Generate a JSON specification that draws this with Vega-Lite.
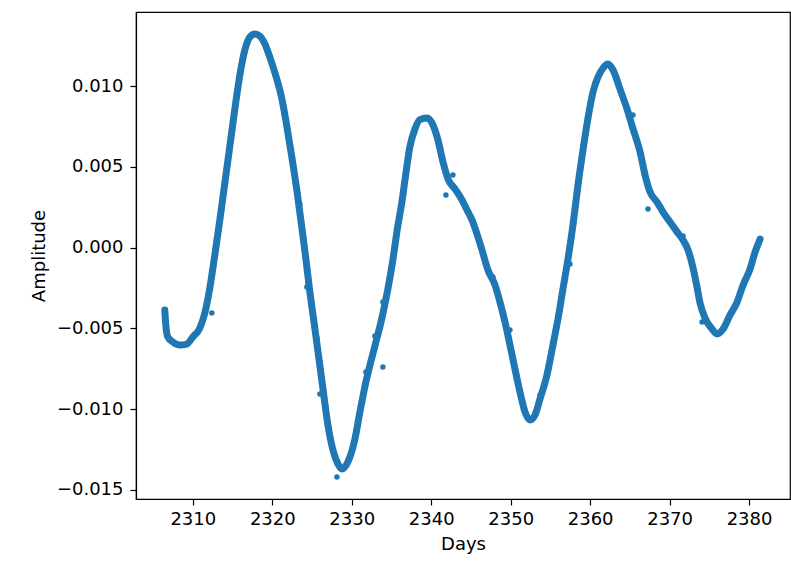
{
  "$schema": "https://vega.github.io/schema/vega-lite/v6.json",
  "width": 654,
  "height": 487,
  "autosize": {"type": "none"},
  "padding": {"left": 136, "top": 12, "right": 1, "bottom": 65},
  "background": "#ffffff",
  "config": {
    "view": {"stroke": "#000000", "strokeWidth": 1.2, "fill": "#ffffff"},
    "axis": {
      "grid": false,
      "domainColor": "#000000",
      "domainWidth": 1.2,
      "tickColor": "#000000",
      "tickWidth": 1.2,
      "tickSize": 6,
      "labelFont": "DejaVu Sans",
      "labelFontSize": 18,
      "labelColor": "#000000",
      "titleFont": "DejaVu Sans",
      "titleFontSize": 18,
      "titleFontWeight": "normal",
      "titleColor": "#000000"
    }
  },
  "data": {
    "values": [
      {"day": 2306.47, "amp": -0.00386, "kind": "curve"},
      {"day": 2306.60, "amp": -0.00479, "kind": "curve"},
      {"day": 2306.85, "amp": -0.00553, "kind": "curve"},
      {"day": 2307.48, "amp": -0.00584, "kind": "curve"},
      {"day": 2308.36, "amp": -0.00603, "kind": "curve"},
      {"day": 2309.24, "amp": -0.00597, "kind": "curve"},
      {"day": 2310.00, "amp": -0.00553, "kind": "curve"},
      {"day": 2310.88, "amp": -0.00498, "kind": "curve"},
      {"day": 2311.51, "amp": -0.00405, "kind": "curve"},
      {"day": 2312.14, "amp": -0.00250, "kind": "curve"},
      {"day": 2312.77, "amp": -0.00046, "kind": "curve"},
      {"day": 2313.40, "amp": 0.00171, "kind": "curve"},
      {"day": 2314.03, "amp": 0.00400, "kind": "curve"},
      {"day": 2314.66, "amp": 0.00629, "kind": "curve"},
      {"day": 2315.29, "amp": 0.00858, "kind": "curve"},
      {"day": 2315.92, "amp": 0.01068, "kind": "curve"},
      {"day": 2316.55, "amp": 0.01223, "kind": "curve"},
      {"day": 2317.18, "amp": 0.01303, "kind": "curve"},
      {"day": 2317.81, "amp": 0.01322, "kind": "curve"},
      {"day": 2318.44, "amp": 0.01309, "kind": "curve"},
      {"day": 2319.07, "amp": 0.01260, "kind": "curve"},
      {"day": 2319.69, "amp": 0.01179, "kind": "curve"},
      {"day": 2320.45, "amp": 0.01062, "kind": "curve"},
      {"day": 2321.21, "amp": 0.00920, "kind": "curve"},
      {"day": 2321.83, "amp": 0.00752, "kind": "curve"},
      {"day": 2322.46, "amp": 0.00561, "kind": "curve"},
      {"day": 2323.09, "amp": 0.00356, "kind": "curve"},
      {"day": 2323.66, "amp": 0.00146, "kind": "curve"},
      {"day": 2324.23, "amp": -0.00071, "kind": "curve"},
      {"day": 2324.73, "amp": -0.00275, "kind": "curve"},
      {"day": 2325.30, "amp": -0.00479, "kind": "curve"},
      {"day": 2325.86, "amp": -0.00683, "kind": "curve"},
      {"day": 2326.43, "amp": -0.00894, "kind": "curve"},
      {"day": 2327.00, "amp": -0.01098, "kind": "curve"},
      {"day": 2327.63, "amp": -0.01252, "kind": "curve"},
      {"day": 2328.26, "amp": -0.01339, "kind": "curve"},
      {"day": 2328.76, "amp": -0.01370, "kind": "curve"},
      {"day": 2329.51, "amp": -0.01327, "kind": "curve"},
      {"day": 2330.40, "amp": -0.01184, "kind": "curve"},
      {"day": 2331.03, "amp": -0.01017, "kind": "curve"},
      {"day": 2331.78, "amp": -0.00832, "kind": "curve"},
      {"day": 2332.28, "amp": -0.00730, "kind": "curve"},
      {"day": 2332.91, "amp": -0.00610, "kind": "curve"},
      {"day": 2333.80, "amp": -0.00435, "kind": "curve"},
      {"day": 2334.55, "amp": -0.00256, "kind": "curve"},
      {"day": 2335.18, "amp": -0.00075, "kind": "curve"},
      {"day": 2335.68, "amp": 0.00097, "kind": "curve"},
      {"day": 2336.31, "amp": 0.00282, "kind": "curve"},
      {"day": 2336.82, "amp": 0.00462, "kind": "curve"},
      {"day": 2337.32, "amp": 0.00625, "kind": "curve"},
      {"day": 2337.95, "amp": 0.00734, "kind": "curve"},
      {"day": 2338.58, "amp": 0.00792, "kind": "curve"},
      {"day": 2339.46, "amp": 0.00802, "kind": "curve"},
      {"day": 2340.22, "amp": 0.00759, "kind": "curve"},
      {"day": 2340.85, "amp": 0.00666, "kind": "curve"},
      {"day": 2341.48, "amp": 0.00530, "kind": "curve"},
      {"day": 2342.11, "amp": 0.00425, "kind": "curve"},
      {"day": 2342.99, "amp": 0.00363, "kind": "curve"},
      {"day": 2343.87, "amp": 0.00295, "kind": "curve"},
      {"day": 2344.50, "amp": 0.00233, "kind": "curve"},
      {"day": 2345.13, "amp": 0.00171, "kind": "curve"},
      {"day": 2345.76, "amp": 0.00084, "kind": "curve"},
      {"day": 2346.39, "amp": -0.00015, "kind": "curve"},
      {"day": 2347.14, "amp": -0.00139, "kind": "curve"},
      {"day": 2348.02, "amp": -0.00231, "kind": "curve"},
      {"day": 2348.65, "amp": -0.00337, "kind": "curve"},
      {"day": 2349.28, "amp": -0.00460, "kind": "curve"},
      {"day": 2349.91, "amp": -0.00603, "kind": "curve"},
      {"day": 2350.54, "amp": -0.00751, "kind": "curve"},
      {"day": 2351.17, "amp": -0.00894, "kind": "curve"},
      {"day": 2351.80, "amp": -0.01017, "kind": "curve"},
      {"day": 2352.43, "amp": -0.01067, "kind": "curve"},
      {"day": 2353.06, "amp": -0.01036, "kind": "curve"},
      {"day": 2353.69, "amp": -0.00937, "kind": "curve"},
      {"day": 2354.57, "amp": -0.00788, "kind": "curve"},
      {"day": 2355.32, "amp": -0.00603, "kind": "curve"},
      {"day": 2355.95, "amp": -0.00442, "kind": "curve"},
      {"day": 2356.58, "amp": -0.00256, "kind": "curve"},
      {"day": 2357.21, "amp": -0.00071, "kind": "curve"},
      {"day": 2357.84, "amp": 0.00140, "kind": "curve"},
      {"day": 2358.47, "amp": 0.00387, "kind": "curve"},
      {"day": 2359.10, "amp": 0.00604, "kind": "curve"},
      {"day": 2359.73, "amp": 0.00802, "kind": "curve"},
      {"day": 2360.36, "amp": 0.00963, "kind": "curve"},
      {"day": 2360.99, "amp": 0.01056, "kind": "curve"},
      {"day": 2361.62, "amp": 0.01111, "kind": "curve"},
      {"day": 2362.25, "amp": 0.01136, "kind": "curve"},
      {"day": 2362.88, "amp": 0.01099, "kind": "curve"},
      {"day": 2363.76, "amp": 0.00981, "kind": "curve"},
      {"day": 2364.64, "amp": 0.00858, "kind": "curve"},
      {"day": 2365.40, "amp": 0.00734, "kind": "curve"},
      {"day": 2366.28, "amp": 0.00592, "kind": "curve"},
      {"day": 2366.91, "amp": 0.00449, "kind": "curve"},
      {"day": 2367.54, "amp": 0.00344, "kind": "curve"},
      {"day": 2368.42, "amp": 0.00282, "kind": "curve"},
      {"day": 2369.17, "amp": 0.00220, "kind": "curve"},
      {"day": 2370.05, "amp": 0.00158, "kind": "curve"},
      {"day": 2370.94, "amp": 0.00097, "kind": "curve"},
      {"day": 2371.69, "amp": 0.00047, "kind": "curve"},
      {"day": 2372.32, "amp": -0.00015, "kind": "curve"},
      {"day": 2372.95, "amp": -0.00126, "kind": "curve"},
      {"day": 2373.45, "amp": -0.00244, "kind": "curve"},
      {"day": 2373.83, "amp": -0.00343, "kind": "curve"},
      {"day": 2374.46, "amp": -0.00436, "kind": "curve"},
      {"day": 2375.34, "amp": -0.00504, "kind": "curve"},
      {"day": 2375.97, "amp": -0.00535, "kind": "curve"},
      {"day": 2376.73, "amp": -0.00504, "kind": "curve"},
      {"day": 2377.61, "amp": -0.00417, "kind": "curve"},
      {"day": 2378.49, "amp": -0.00337, "kind": "curve"},
      {"day": 2379.25, "amp": -0.00231, "kind": "curve"},
      {"day": 2380.13, "amp": -0.00132, "kind": "curve"},
      {"day": 2380.76, "amp": -0.00027, "kind": "curve"},
      {"day": 2381.39, "amp": 0.00053, "kind": "curve"},
      {"day": 2312.39, "amp": -0.00405, "kind": "outlier"},
      {"day": 2323.47, "amp": 0.00270, "kind": "outlier"},
      {"day": 2324.35, "amp": -0.00244, "kind": "outlier"},
      {"day": 2325.61, "amp": -0.00559, "kind": "outlier"},
      {"day": 2325.99, "amp": -0.00906, "kind": "outlier"},
      {"day": 2328.13, "amp": -0.01420, "kind": "outlier"},
      {"day": 2331.78, "amp": -0.00770, "kind": "outlier"},
      {"day": 2332.91, "amp": -0.00547, "kind": "outlier"},
      {"day": 2333.92, "amp": -0.00739, "kind": "outlier"},
      {"day": 2333.92, "amp": -0.00337, "kind": "outlier"},
      {"day": 2341.85, "amp": 0.00326, "kind": "outlier"},
      {"day": 2342.73, "amp": 0.00449, "kind": "outlier"},
      {"day": 2347.77, "amp": -0.00182, "kind": "outlier"},
      {"day": 2349.91, "amp": -0.00510, "kind": "outlier"},
      {"day": 2353.69, "amp": -0.00912, "kind": "outlier"},
      {"day": 2357.46, "amp": -0.00101, "kind": "outlier"},
      {"day": 2365.39, "amp": 0.00821, "kind": "outlier"},
      {"day": 2367.28, "amp": 0.00239, "kind": "outlier"},
      {"day": 2371.69, "amp": 0.00072, "kind": "outlier"},
      {"day": 2374.08, "amp": -0.00460, "kind": "outlier"}
    ]
  },
  "encoding": {
    "x": {
      "field": "day",
      "type": "quantitative",
      "title": "Days",
      "scale": {"domain": [2302.85, 2385.15], "nice": false, "zero": false},
      "axis": {"values": [2310, 2320, 2330, 2340, 2350, 2360, 2370, 2380], "format": "d", "labelPadding": 5, "titlePadding": 7}
    },
    "y": {
      "field": "amp",
      "type": "quantitative",
      "title": "Amplitude",
      "scale": {"domain": [-0.01556, 0.01458], "nice": false, "zero": false},
      "axis": {"values": [-0.015, -0.01, -0.005, 0, 0.005, 0.01], "format": ".3f", "labelPadding": 7, "titlePadding": 8}
    }
  },
  "layer": [
    {
      "transform": [{"filter": "datum.kind === 'curve'"}],
      "mark": {"type": "line", "color": "#1f77b4", "strokeWidth": 7, "strokeCap": "round", "strokeJoin": "round", "interpolate": "monotone"}
    },
    {
      "mark": {"type": "circle", "color": "#1f77b4", "opacity": 1, "size": 30}
    }
  ]
}
